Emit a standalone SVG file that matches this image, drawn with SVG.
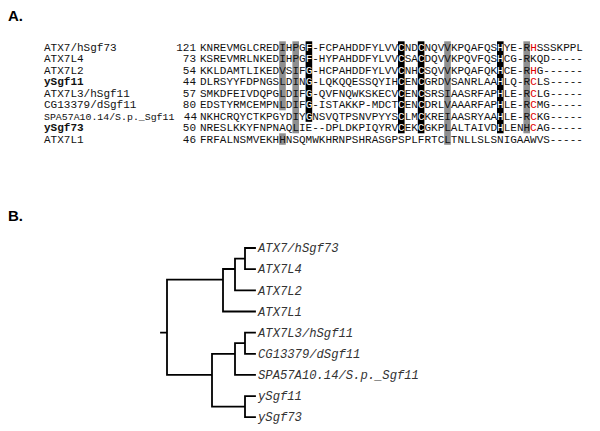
<svg xmlns="http://www.w3.org/2000/svg" width="600" height="431" viewBox="0 0 600 431">
<style>
text{font-family:"Liberation Mono","Courier New",monospace;font-size:11px;fill:#111}
.h{font-family:"Liberation Sans",Arial,sans-serif;font-weight:bold;font-size:15px;fill:#000}
.num{text-anchor:end}
.b{font-weight:bold}
.w{fill:#fff}
.r{fill:#e00000}
.g{fill:#8f8f8f}
.k{fill:#000}
.sm{font-size:9.9px}
.lbl{font-style:italic;font-size:12.2px;fill:#333}
#tree path{stroke:#000;stroke-width:1.8;fill:none;stroke-linecap:square}
</style>
<rect width="600" height="431" fill="#fff"/>
<text class="h" x="8" y="21">A.</text>
<text class="h" x="8" y="221">B.</text>
<g id="highlights">
<rect class="g" x="279.2" y="41.3" width="6.6" height="69"/>
<rect class="g" x="279.2" y="133.3" width="6.6" height="11.5"/>
<rect class="g" x="292.4" y="41.3" width="6.6" height="92"/>
<rect class="k" x="305.6" y="41.3" width="6.6" height="80.5"/>
<rect class="k" x="398" y="41.3" width="6.6" height="92"/>
<rect class="k" x="417.8" y="41.3" width="6.6" height="92"/>
<rect class="g" x="444.2" y="41.3" width="6.6" height="103.5"/>
<rect class="k" x="497" y="41.3" width="6.6" height="92"/>
<rect class="g" x="523.4" y="41.3" width="6.6" height="92"/>
</g>
<g id="row-ATX7-hSgf73"><text x="44" y="50.8">ATX7/hSgf73</text><text class="num" x="196" y="50.8">121</text><text x="200" y="50.8">KNREVMGLCREDIHPG<tspan class="w">F</tspan>-FCPAHDDFYLVV<tspan class="w">C</tspan>ND<tspan class="w">C</tspan>NQVVKPQAFQS<tspan class="w">H</tspan>YE-R<tspan class="r">H</tspan>SSSKPPL</text></g>
<g id="row-ATX7L4"><text x="44" y="62.3">ATX7L4</text><text class="num" x="196" y="62.3">73</text><text x="200" y="62.3">KSREVMRLNKEDIHPG<tspan class="w">F</tspan>-HYPAHDDFYLVV<tspan class="w">C</tspan>SA<tspan class="w">C</tspan>DQVVKPQVFQS<tspan class="w">H</tspan>CG-RKQD-----</text></g>
<g id="row-ATX7L2"><text x="44" y="73.8">ATX7L2</text><text class="num" x="196" y="73.8">54</text><text x="200" y="73.8">KKLDAMTLIKEDVSIF<tspan class="w">G</tspan>-HCPAHDDFYLVV<tspan class="w">C</tspan>NH<tspan class="w">C</tspan>SQVVKPQAFQK<tspan class="w">H</tspan>CE-R<tspan class="r">H</tspan>G------</text></g>
<g id="row-ySgf11"><text class="b" x="44" y="85.3">ySgf11</text><text class="num" x="196" y="85.3">44</text><text x="200" y="85.3">DLRSYYFDPNGSLDIN<tspan class="w">G</tspan>-LQKQQESSQYIH<tspan class="w">C</tspan>EN<tspan class="w">C</tspan>GRDVSANRLAA<tspan class="w">H</tspan>LQ-R<tspan class="r">C</tspan>LS-----</text></g>
<g id="row-ATX7L3-hSgf11"><text x="44" y="96.8">ATX7L3/hSgf11</text><text class="num" x="196" y="96.8">57</text><text x="200" y="96.8">SMKDFEIVDQPGLDIF<tspan class="w">G</tspan>-QVFNQWKSKECV<tspan class="w">C</tspan>EN<tspan class="w">C</tspan>SRSIAASRFAP<tspan class="w">H</tspan>LE-R<tspan class="r">C</tspan>LG-----</text></g>
<g id="row-CG13379-dSgf11"><text x="44" y="108.3">CG13379/dSgf11</text><text class="num" x="196" y="108.3">80</text><text x="200" y="108.3">EDSTYRMCEMPNLDIF<tspan class="w">G</tspan>-ISTAKKP-MDCT<tspan class="w">C</tspan>EN<tspan class="w">C</tspan>DRLVAAARFAP<tspan class="w">H</tspan>LE-R<tspan class="r">C</tspan>MG-----</text></g>
<g id="row-SPA57A10"><text class="sm" x="44" y="119.8">SPA57A10.14/S.p._Sgf11</text><text class="num" x="197" y="119.8">44</text><text x="200" y="119.8">NKHCRQYCTKPGYDIY<tspan class="w">G</tspan>NSVQTPSNVPYYS<tspan class="w">C</tspan>LM<tspan class="w">C</tspan>KREIAASRYAA<tspan class="w">H</tspan>LE-R<tspan class="r">C</tspan>KG-----</text></g>
<g id="row-ySgf73"><text class="b" x="44" y="131.3">ySgf73</text><text class="num" x="196" y="131.3">50</text><text x="200" y="131.3">NRESLKKYFNPNAQLIE--DPLDKPIQYRV<tspan class="w">C</tspan>EK<tspan class="w">C</tspan>GKPLALTAIVD<tspan class="w">H</tspan>LENH<tspan class="r">C</tspan>AG-----</text></g>
<g id="row-ATX7L1"><text x="44" y="142.8">ATX7L1</text><text class="num" x="196" y="142.8">46</text><text x="200" y="142.8">FRFALNSMVEKHHNSQMWKHRNPSHRASGPSPLFRTCLTNLLSLSNIGAAWVS-----</text></g>
<g id="tree">
<path d="M161,332.6 H167 M167,279.7 V374.9 M167,279.7 H223 M223,269 V311.5 M223,311.5 H255 M223,269 H235 M235,258.6 V290.3 M235,290.3 H255 M235,258.6 H245 M245,248 V269.2 M245,248 H255 M245,269.2 H255 M167,374.9 H212 M212,353.8 V406.7 M212,353.8 H235 M235,343.2 V374.9 M235,374.9 H255 M235,343.2 H245 M245,332.6 V353.8 M245,332.6 H255 M245,353.8 H255 M212,406.7 H245 M245,396.1 V417.2 M245,396.1 H255 M245,417.2 H255"/>
</g>
<g id="leaf-ATX7-hSgf73"><text class="lbl" x="258" y="252.2">ATX7/hSgf73</text></g>
<g id="leaf-ATX7L4"><text class="lbl" x="258" y="273.4">ATX7L4</text></g>
<g id="leaf-ATX7L2"><text class="lbl" x="258" y="294.5">ATX7L2</text></g>
<g id="leaf-ATX7L1"><text class="lbl" x="258" y="315.7">ATX7L1</text></g>
<g id="leaf-ATX7L3-hSgf11"><text class="lbl" x="258" y="336.8">ATX7L3/hSgf11</text></g>
<g id="leaf-CG13379-dSgf11"><text class="lbl" x="258" y="358">CG13379/dSgf11</text></g>
<g id="leaf-SPA57A10"><text class="lbl" x="258" y="379.1">SPA57A10.14/S.p._Sgf11</text></g>
<g id="leaf-ySgf11"><text class="lbl" x="258" y="400.3">ySgf11</text></g>
<g id="leaf-ySgf73"><text class="lbl" x="258" y="421.4">ySgf73</text></g>
</svg>
